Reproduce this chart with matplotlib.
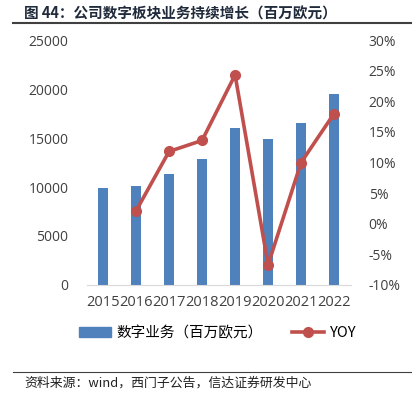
"""
Digital business revenue and YoY growth chart
"""
import matplotlib
matplotlib.use('Agg')
import matplotlib.pyplot as plt
from matplotlib.lines import Line2D
from matplotlib.ticker import FuncFormatter

plt.rcParams['font.family'] = ['Open Sans', 'Noto Sans CJK SC', 'DejaVu Sans']

# Data
years = ['2015', '2016', '2017', '2018', '2019', '2020', '2021', '2022']
revenue = [9900, 10100, 11300, 12900, 16000, 14900, 16500, 19500]
yoy_years = ['2016', '2017', '2018', '2019', '2020', '2021', '2022']
yoy = [2.1, 11.8, 13.6, 24.3, -6.7, 10.0, 18.0]

bar_color = '#4F81BD'
line_color = '#C0504D'

fig = plt.figure(figsize=(4.12, 3.95), dpi=100)
ax1 = fig.add_axes([0.210, 0.2785, 0.641, 0.6202])
ax2 = ax1.twinx()

x = list(range(len(years)))
ax1.bar(x, revenue, width=0.32, color=bar_color, label='数字业务（百万欧元）', zorder=2)
yoy_x = [years.index(y) for y in yoy_years]
ax2.plot(yoy_x, yoy, color=line_color, linewidth=2.6, marker='o', markersize=7,
         label='YOY', zorder=3)

ax1.set_xlim(-0.5, len(years) - 0.5)
ax1.set_ylim(0, 25000)
ax1.set_yticks(range(0, 25001, 5000))
ax2.set_ylim(-10, 30)
ax2.set_yticks(range(-10, 31, 5))
ax2.yaxis.set_major_formatter(FuncFormatter(lambda v, p: f'{int(v)}%'))

ax1.set_xticks(x)
ax1.set_xticklabels(years)

for ax in (ax1, ax2):
    for s in ax.spines.values():
        s.set_visible(False)
    ax.tick_params(length=0, labelsize=10, colors='#404040')
ax1.spines['bottom'].set_visible(True)
ax1.spines['bottom'].set_color('#D9D9D9')
ax1.tick_params(axis='y', pad=13)
ax2.tick_params(axis='y', pad=13)
ax1.tick_params(axis='x', pad=7, labelsize=10.5)
ax2.set_zorder(ax1.get_zorder() + 1)
ax2.patch.set_visible(False)

# Legend below the plot
handles = [plt.Rectangle((0, 0), 1, 1, color=bar_color),
           Line2D([], [], color=line_color, linewidth=2.6, marker='o', markersize=7)]
fig.legend(handles, ['数字业务（百万欧元）', 'YOY'], loc='center',
           bbox_to_anchor=(0.528, 0.157), ncol=2, frameon=False,
           handlelength=2.2, handletextpad=0.4, columnspacing=2.0,
           prop={'family': ['Noto Sans CJK SC'], 'size': 10.5})

# Title and source
fig.text(0.058, 0.967, '图 44：公司数字板块业务持续增长（百万欧元）', fontsize=10.5,
         fontweight='bold', color='#1F2A3A', va='center', ha='left',
         family=['Noto Sans CJK SC', 'DejaVu Sans'])
fig.add_artist(Line2D([0.032, 1.0], [0.943, 0.943], color='#404040', linewidth=1.5))
fig.add_artist(Line2D([0.032, 1.0], [0.058, 0.058], color='#404040', linewidth=0.8))
fig.text(0.060, 0.030, '资料来源：wind，西门子公告，信达证券研发中心', fontsize=9.3,
         style='italic', color='#202020', va='center', ha='left',
         family=['Noto Sans CJK SC', 'DejaVu Sans'])

plt.savefig('out.png', dpi=100)
plt.close()
